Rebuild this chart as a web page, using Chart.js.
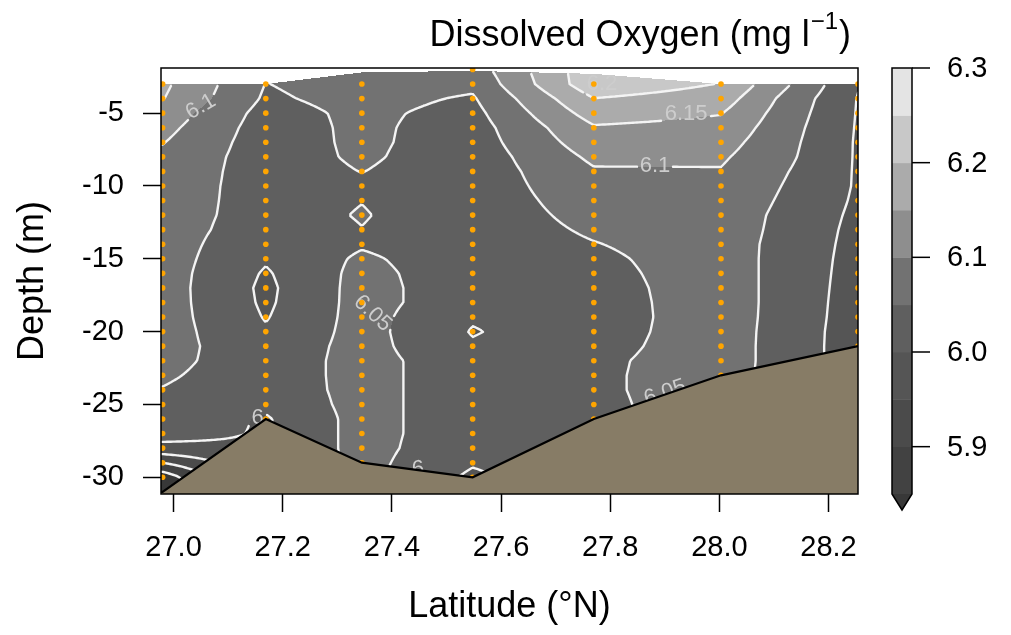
<!DOCTYPE html>
<html>
<head>
<meta charset="utf-8">
<script src="https://cdn.jsdelivr.net/npm/chart.js@4.4.1/dist/chart.umd.min.js"></script>
<style>
html,body{margin:0;padding:0;background:#fff;}
canvas{display:block;}
</style>
</head>
<body>
<canvas id="c" width="1011" height="635"></canvas>
<script>
// ---------------- DATA ----------------
// sampling depths (m), one value per depth in each profile below
const depths = [-2,-3,-4,-5,-6,-7,-8,-9,-10,-11,-12,-13,-14,-15,-16,-17,-18,-19,-20,-21,-22,-23,-24,-25,-26,-27,-28,-29,-30,-31];

// dissolved oxygen (mg/l) profiles
const doS1 = [null,6.16,6.152,6.13,6.115,6.102,6.09,6.085,6.078,6.074,6.072,6.072,6.072,6.072,6.072,6.072,6.072,6.072,6.072,6.07,6.065,6.057,6.048,6.04,6.03,6.02,5.985,5.9,5.82,null];
const doS2 = [null,6.049,6.043,6.032,6.027,6.025,6.025,6.025,6.028,6.03,6.03,6.025,6.015,6.005,5.995,5.99,5.992,5.997,6.005,6.015,6.02,6.02,6.018,6.01,5.995,null,null,null,null,null];
const doS3 = [null,6.07,6.065,6.06,6.06,6.06,6.058,6.051,6.04,6.049,6.053,6.049,6.045,6.058,6.065,6.068,6.068,6.068,6.068,6.068,6.068,6.068,6.068,6.068,6.068,6.068,6.068,6.066,null,null];
const doS4 = [6.075,6.06,6.045,6.035,6.028,6.025,6.021,6.02,6.02,6.02,6.02,6.02,6.02,6.02,6.02,6.02,6.02,6.005,5.997,6.005,6.02,6.02,6.02,6.02,6.02,6.02,6.015,6.005,5.99,null];
const doS5 = [null,6.235,6.199,6.172,6.145,6.128,6.11,6.095,6.085,6.075,6.066,6.057,6.048,6.04,6.035,6.031,6.029,6.028,6.03,6.034,6.04,6.042,6.042,6.04,6.04,null,null,null,null,null];
const doS6 = [null,6.198,6.175,6.152,6.135,6.12,6.107,6.097,6.09,6.085,6.08,6.078,6.075,6.075,6.075,6.075,6.075,6.075,6.075,6.075,6.075,6.073,null,null,null,null,null,null,null,null];
const doGrid2813 = [null,6.101,6.08,6.072,6.065,6.06,6.056,6.049,6.044,6.039,6.034,6.032,6.03,6.029,6.029,6.029,6.029,6.028,6.026,6.025,6.025,null,null,null,null,null,null,null,null,null];
const doS7 = [null,6.003,5.998,5.997,5.996,5.995,5.995,5.995,5.995,5.993,5.99,5.987,5.985,5.983,5.981,5.979,5.977,5.976,5.975,5.975,null,null,null,null,null,null,null,null,null,null];

// station latitudes (°N) and the gridded section columns
const stationLat = [26.98, 27.169, 27.345, 27.548, 27.770, 28.003, 28.254];
const stationVals = [doS1, doS2, doS3, doS4, doS5, doS6, doS7];
const columnLat = [26.98, 27.169, 27.345, 27.548, 27.770, 28.003, 28.130, 28.254];
const columnVals = [doS1, doS2, doS3, doS4, doS5, doS6, doGrid2813, doS7];
// upper limit of the gridded section at each column (m)
const gridTopDepth = [-3, -3, -2.2, -2.1, -2.3, -3, -3, -3];

// sea floor
const bottomLat = [26.977, 26.98, 27.169, 27.345, 27.548, 27.770, 28.003, 28.254];
const bottomDepth = [-31, -31, -26, -29, -30, -26, -23, -21];

// ticks and contour levels
const xTicks = [27.0, 27.2, 27.4, 27.6, 27.8, 28.0, 28.2];
const yTicks = [-30, -25, -20, -15, -10, -5];
const cbTicks = [5.9, 6.0, 6.1, 6.2, 6.3];
const levels = [5.85, 5.9, 5.95, 6.0, 6.05, 6.1, 6.15, 6.2, 6.25, 6.3];

// contour labels
const labelText  = ['6.1', '6.05', '6.15', '6.1', '6.2', '6.05', '6', '6', '6'];
const labelLat   = [27.049, 27.366, 27.939, 27.882, 27.785, 27.900, 27.154, 27.448, 28.148];
const labelDepth = [-4.5, -18.7, -4.98, -8.55, -2.95, -24.14, -25.83, -29.38, -22.8];
const labelAngle = [-30, 43, 0, 0, 0, -19, 0, -5, -12];

// ---------------- STYLE ----------------
const bandColors = ['#383838','#424242','#4b4b4b','#555555','#5f5f5f','#727272','#8e8e8e','#ababab','#c8c8c8','#e4e4e4','#f4f4f4'];
const FONT = '"Liberation Sans", Arial, Helvetica, sans-serif';

// ---------------- FIELD ----------------
const dStep = depths[0] - depths[1];
const cols = columnLat.map((lat, i) => {
  const v = columnVals[i];
  let top = 0; while (v[top] === null) top++;
  let bot = v.length - 1; while (v[bot] === null) bot--;
  return {lat, v, top, bot, gridTop: (depths[0] - gridTopDepth[i]) / dStep};
});
function colValue(c, t) {
  if (t <= c.top) return c.v[c.top];
  if (t >= c.bot) return c.v[c.bot];
  const k = Math.floor(t), f = t - k;
  return c.v[k] + (c.v[k + 1] - c.v[k]) * f;
}
function field(lat, depth) {
  const t = (depths[0] - depth) / dStep;
  let j = 0;
  while (j < cols.length - 2 && lat > cols[j + 1].lat) j++;
  let f = (lat - cols[j].lat) / (cols[j + 1].lat - cols[j].lat);
  f = Math.max(0, Math.min(1, f));
  const topT = cols[j].gridTop + (cols[j + 1].gridTop - cols[j].gridTop) * f;
  if (t < topT - 1e-9) return null;
  return colValue(cols[j], t) * (1 - f) + colValue(cols[j + 1], t) * f;
}
function bandIndex(v) { let k = 0; while (k < levels.length && v >= levels[k]) k++; return k; }

const fieldPlugin = {
  id: 'oxyField',
  beforeDatasetsDraw(chart) {
    const {ctx, chartArea: a, scales: {x, y}} = chart;
    ctx.save();
    ctx.beginPath(); ctx.rect(a.left, a.top, a.right - a.left, a.bottom - a.top); ctx.clip();
    const L = Math.floor(a.left), R = Math.ceil(a.right), T = Math.floor(a.top), B = Math.ceil(a.bottom);
    const depRow = [];
    for (let py = T; py < B; py++) depRow.push(y.getValueForPixel(py + 0.5));
    for (let px = L; px < R; px++) {
      const lat = x.getValueForPixel(px + 0.5);
      let runStart = T, runBand = -2;
      for (let py = T; py <= B; py++) {
        let b;
        if (py < B) { const v = field(lat, depRow[py - T]); b = v === null ? -1 : bandIndex(v); }
        else b = -3;
        if (b !== runBand) {
          if (runBand >= 0) { ctx.fillStyle = bandColors[runBand]; ctx.fillRect(px, runStart, 1, py - runStart); }
          runBand = b; runStart = py;
        }
      }
    }
    // label boxes
    ctx.font = '22px ' + FONT;
    const boxes = labelText.map((t, i) => ({
      cx: x.getPixelForValue(labelLat[i]), cy: y.getPixelForValue(labelDepth[i]),
      ang: labelAngle[i] * Math.PI / 180, hw: ctx.measureText(t).width / 2 + 3, hh: 11
    }));
    const inBox = (mx, my) => boxes.some(bx => {
      const dx = mx - bx.cx, dy = my - bx.cy;
      const c = Math.cos(bx.ang), s = Math.sin(bx.ang);
      const u = dx * c + dy * s, w = -dx * s + dy * c;
      return Math.abs(u) < bx.hw && Math.abs(w) < bx.hh;
    });
    // contour lines
    const st = 2;
    const xs = [], ys = [];
    for (let p = L; ; p += st) { xs.push(Math.min(p, R)); if (p >= R) break; }
    for (let p = T; ; p += st) { ys.push(Math.min(p, B)); if (p >= B) break; }
    const lats = xs.map(p => x.getValueForPixel(p));
    const G = ys.map(py => { const d = y.getValueForPixel(py); return lats.map(lt => field(lt, d)); });
    ctx.strokeStyle = '#f4f4f4'; ctx.lineWidth = 2.4; ctx.lineCap = 'round';
    const lerp = (p1, p2, v1, v2, lev) => p1 + (p2 - p1) * (lev - v1) / (v2 - v1);
    const seg = (p, q) => {
      if (inBox((p[0] + q[0]) / 2, (p[1] + q[1]) / 2)) return;
      ctx.moveTo(p[0], p[1]); ctx.lineTo(q[0], q[1]);
    };
    for (let li = 0; li < levels.length - 1; li++) {
      const lev = levels[li];
      ctx.beginPath();
      for (let j = 0; j < ys.length - 1; j++) {
        for (let i = 0; i < xs.length - 1; i++) {
          const A = G[j][i], Bv = G[j][i + 1], C = G[j + 1][i + 1], D = G[j + 1][i];
          if (A === null || Bv === null || C === null || D === null) continue;
          const idx = (A >= lev ? 8 : 0) | (Bv >= lev ? 4 : 0) | (C >= lev ? 2 : 0) | (D >= lev ? 1 : 0);
          if (idx === 0 || idx === 15) continue;
          const x0 = xs[i], x1 = xs[i + 1], y0 = ys[j], y1 = ys[j + 1];
          const top = () => [lerp(x0, x1, A, Bv, lev), y0];
          const right = () => [x1, lerp(y0, y1, Bv, C, lev)];
          const bottom = () => [lerp(x0, x1, D, C, lev), y1];
          const left = () => [x0, lerp(y0, y1, A, D, lev)];
          const m = (A + Bv + C + D) / 4;
          switch (idx) {
            case 1: case 14: seg(left(), bottom()); break;
            case 2: case 13: seg(bottom(), right()); break;
            case 3: case 12: seg(left(), right()); break;
            case 4: case 11: seg(top(), right()); break;
            case 6: case 9: seg(top(), bottom()); break;
            case 7: case 8: seg(left(), top()); break;
            case 5: if (m >= lev) { seg(top(), left()); seg(right(), bottom()); } else { seg(top(), right()); seg(left(), bottom()); } break;
            case 10: if (m >= lev) { seg(top(), right()); seg(left(), bottom()); } else { seg(top(), left()); seg(right(), bottom()); } break;
          }
        }
      }
      ctx.stroke();
    }
    // contour labels
    ctx.fillStyle = '#cdcdcd';
    ctx.textAlign = 'center'; ctx.textBaseline = 'middle';
    boxes.forEach((bx, i) => {
      ctx.save(); ctx.translate(bx.cx, bx.cy); ctx.rotate(bx.ang);
      ctx.fillText(labelText[i], 0, 1); ctx.restore();
    });
    ctx.restore();
  },
  afterDraw(chart) {
    const {ctx, chartArea: a} = chart;
    ctx.save();
    // plot frame
    ctx.strokeStyle = '#000'; ctx.lineWidth = 1.5;
    ctx.strokeRect(a.left, a.top, a.right - a.left, a.bottom - a.top);
    // colour key
    const cbL = 892, cbR = 912;
    const vTop = levels[levels.length - 1], vBot = levels[0];
    const yOf = v => a.top + (vTop - v) / (vTop - vBot) * (a.bottom - a.top);
    for (let k = 1; k < levels.length; k++) {
      const y1 = yOf(levels[k]), y2 = yOf(levels[k - 1]);
      ctx.fillStyle = bandColors[k];
      ctx.fillRect(cbL, y1, cbR - cbL, y2 - y1 + 0.5);
    }
    const yb = yOf(vBot), ah = 16;
    ctx.beginPath();
    ctx.moveTo(cbL, yb); ctx.lineTo(cbR, yb); ctx.lineTo((cbL + cbR) / 2, yb + ah); ctx.closePath();
    ctx.fillStyle = bandColors[0]; ctx.fill();
    ctx.beginPath();
    ctx.moveTo(cbL, yOf(vTop)); ctx.lineTo(cbR, yOf(vTop)); ctx.lineTo(cbR, yb);
    ctx.lineTo((cbL + cbR) / 2, yb + ah); ctx.lineTo(cbL, yb); ctx.closePath();
    ctx.strokeStyle = '#000'; ctx.lineWidth = 1.5; ctx.stroke();
    ctx.font = '29px ' + FONT; ctx.fillStyle = '#000';
    ctx.textAlign = 'left'; ctx.textBaseline = 'middle';
    cbTicks.forEach(v => {
      const yy = yOf(v);
      ctx.beginPath(); ctx.moveTo(cbR, yy); ctx.lineTo(cbR + 18, yy); ctx.stroke();
      ctx.fillText(v.toFixed(1), 947, yy + 1);
    });
    // key title
    const p1 = 'Dissolved Oxygen (mg l', p2 = '\u22121', p3 = ')';
    ctx.textBaseline = 'alphabetic';
    ctx.font = '36px ' + FONT;
    const w1 = ctx.measureText(p1).width, w3 = ctx.measureText(p3).width;
    ctx.font = '24px ' + FONT;
    const w2 = ctx.measureText(p2).width;
    const right = 851;
    const x3 = right - w3, x2 = x3 - w2 - 1, x1 = x2 - w1 - 1;
    ctx.font = '36px ' + FONT;
    ctx.fillText(p1, x1, 46); ctx.fillText(p3, x3, 46);
    ctx.font = '24px ' + FONT;
    ctx.fillText(p2, x2, 29);
    ctx.restore();
  }
};

// ---------------- CHART ----------------
const stationPoints = [];
stationLat.forEach((lat, i) => {
  stationVals[i].forEach((v, k) => { if (v !== null) stationPoints.push({x: lat, y: depths[k]}); });
});
const bottomPoints = bottomLat.map((lat, i) => ({x: lat, y: bottomDepth[i]}));

Chart.defaults.font.family = FONT;
Chart.defaults.color = '#000';

new Chart(document.getElementById('c'), {
  type: 'scatter',
  data: {
    datasets: [
      { type: 'line', label: 'Sea floor', data: bottomPoints, order: 0,
        fill: 'start', backgroundColor: '#877c66', borderColor: '#000', borderWidth: 2.2,
        pointRadius: 0, tension: 0 },
      { label: 'CTD samples', data: stationPoints, order: 1,
        pointRadius: 2.8, pointHoverRadius: 2.8, backgroundColor: '#ffa500', borderWidth: 0 }
    ]
  },
  options: {
    responsive: false, animation: false, devicePixelRatio: 1,
    layout: { padding: { top: 68, right: 153, left: 0, bottom: 0 } },
    plugins: { legend: { display: false }, tooltip: { enabled: false } },
    scales: {
      x: {
        type: 'linear', min: 26.977, max: 28.254,
        afterBuildTicks: s => { s.ticks = xTicks.map(v => ({value: v})); },
        afterFit: s => { s.height = 141; },
        ticks: { autoSkip: false, maxRotation: 0, padding: 19, font: { size: 29 }, callback: v => v.toFixed(1) },
        grid: { display: true, drawOnChartArea: false, drawTicks: true, tickLength: 18, tickWidth: 1.5, tickColor: '#000' },
        border: { display: false },
        title: { display: true, text: 'Latitude (°N)', font: { size: 36 }, padding: { top: 0, bottom: 6 } }
      },
      y: {
        type: 'linear', min: -31.15, max: -1.9,
        afterBuildTicks: s => { s.ticks = yTicks.map(v => ({value: v})); },
        afterFit: s => { s.width = 161; },
        ticks: { autoSkip: false, padding: 19, font: { size: 29 }, callback: v => String(v) },
        grid: { display: true, drawOnChartArea: false, drawTicks: true, tickLength: 18, tickWidth: 1.5, tickColor: '#000' },
        border: { display: false },
        title: { display: true, text: 'Depth (m)', font: { size: 36 }, padding: { top: 11, bottom: 0 } }
      }
    }
  },
  plugins: [fieldPlugin]
});
</script>
</body>
</html>
